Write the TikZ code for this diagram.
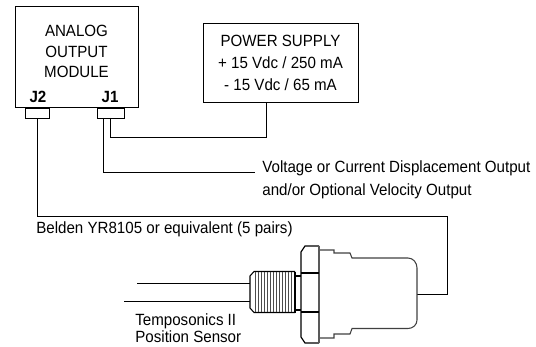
\documentclass[tikz,border=0pt]{standalone}
\usepackage{fontspec}
\setmainfont[FakeStretch=0.93]{Liberation Sans}
\tikzset{
  unit box/.style={draw, line width=0.55pt, align=center, inner sep=0pt},
  jack/.style={draw, line width=0.55pt, inner sep=0pt, minimum height=0.2cm},
  wire/.style={line width=0.55pt},
  lbl/.style={inner sep=0pt, align=left, anchor=west}
}
\begin{document}
\begin{tikzpicture}[x=0.02cm, y=-0.02cm, font=\fontsize{9.25}{12.4}\selectfont]
\useasboundingbox (0,0) rectangle (536,347);
\node[unit box, minimum width=2.46cm, minimum height=2.02cm] (module) at (76.5,56.5) {};
\node[inner sep=0pt, align=center, font=\fontsize{9.25}{11.8}\selectfont] (moduletext) at (76.5,51.5) {ANALOG\\OUTPUT\\MODULE};
\node[inner sep=0pt] (jtwo) at (38,97) {\textbf{J2}};
\node[inner sep=0pt] (jone) at (110,97) {\textbf{J1}};
\node[jack, minimum width=0.48cm] (conntwo) at (37,113) {};
\node[jack, minimum width=0.54cm] (connone) at (110.5,113) {};
\node[unit box, minimum width=3.1cm, minimum height=1.58cm] (power) at (280.5,62.5) {};
\node[inner sep=0pt, align=center] (powertext) at (280.5,63) {POWER SUPPLY\\+ 15 Vdc / 250 mA\\- 15 Vdc / 65 mA};
\node[lbl, font=\fontsize{9.25}{13.2}\selectfont] (output) at (262,180) {Voltage or Current Displacement Output\\and/or Optional Velocity Output};
\node[lbl] (belden) at (36,229.5) {Belden YR8105 or equivalent (5 pairs)};
\node[lbl, font=\fontsize{9.25}{10}\selectfont] (sensorname) at (135,328) {Temposonics II\\Position Sensor};
\coordinate (tapone) at (103,118);
\coordinate (taptwo) at (110,118);
\coordinate (powerin) at (266,102);
\coordinate (outend) at (255,172);
\coordinate (bodyend) at (417,294);
% cables
\draw[wire] (tapone) |- (outend);
\draw[wire] (taptwo) -- ++(0,19) -| (powerin);
\draw[wire] (conntwo.south) -- ++(0,98) -| (447,294) -- (bodyend);
\draw[wire] (137,283) -- (250,283)
            (124,301) -- (250,301);
% sensor
\draw[line width=0.6pt, black!75] (319,250) -- (334,250) -- (334,253) -- (350,253) -- (352,258)
  -- (408,258) to[out=0,in=90] (417,268) -- (417,320) to[out=-90,in=0] (408,328.5) -- (352,328.5)
  -- (350,334) -- (334,334) -- (334,338) -- (319,338);
\draw[line width=0.7pt] (319,246) -- (305,246) -- (301,252) -- (301,337) -- (305,343) -- (319,343);
\draw[line width=1pt, black!65] (319,246) -- (319,343);
\draw[line width=1pt] (301,273) -- (319,273)
      (301,312) -- (319,312);
\draw[line width=0.6pt] (295,276) -- (301,276)
      (295,310) -- (301,310);
\draw[line width=0.6pt] (295,271.5) -- (254,271.5) -- (250,276) -- (250,308) -- (254,312.5) -- (295,312.5);
\draw[line width=1.2pt] (295,271.5) -- (295,312.5);
\foreach \i in {0,...,12}
  \draw[line width=0.45pt, black!70] (255+3*\i,272) -- (255+3*\i,312);
\end{tikzpicture}
\end{document}
